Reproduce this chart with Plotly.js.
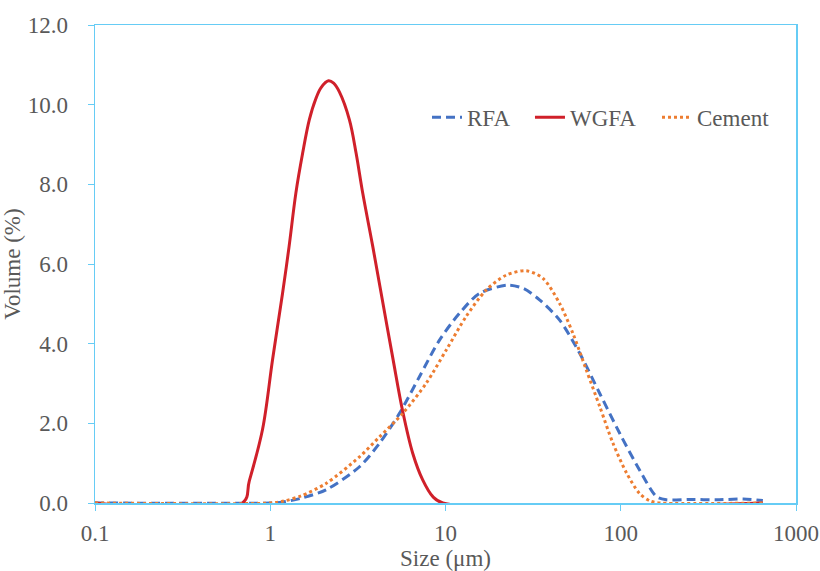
<!DOCTYPE html>
<html>
<head>
<meta charset="utf-8">
<script src="https://cdn.plot.ly/plotly-3.0.1.min.js"></script>
<style>html,body{margin:0;padding:0;background:#fff;}#chart{width:820px;height:571px;}</style>
</head>
<body>
<div id="chart"></div>
<script>
// Particle size (µm) and volume (%)
const rfaSize = [0.1, 1.0, 1.17, 1.5, 2.08, 3.23, 4.2, 5.46, 7.1, 9.24, 12.0, 15.6, 22.7, 28, 34.4, 44.8, 58.3, 75.9, 98.6, 128, 160, 182, 250, 350, 500, 647];
const rfaVolume = [0, 0, 0.02, 0.12, 0.33, 0.91, 1.50, 2.25, 3.17, 4.09, 4.76, 5.26, 5.47, 5.38, 5.10, 4.59, 3.76, 2.75, 1.75, 0.83, 0.16, 0.08, 0.09, 0.08, 0.10, 0.06];

const wgfaSize = [0.1, 0.695, 0.759, 0.904, 1.03, 1.175, 1.28, 1.40, 1.53, 1.67, 1.82, 1.95, 2.15, 2.3, 2.48, 2.83, 3.09, 3.37, 3.85, 4.38, 5.0, 5.7, 6.5, 7.41, 8.47, 9.66, 647];
const wgfaVolume = [0, 0, 0.55, 1.85, 3.59, 5.26, 6.43, 7.78, 8.78, 9.62, 10.15, 10.43, 10.60, 10.54, 10.32, 9.62, 8.78, 7.78, 6.43, 5.05, 3.65, 2.30, 1.25, 0.58, 0.16, 0, 0];

const cementSize = [0.1, 1.0, 1.2, 1.5, 2.08, 3.23, 4.2, 5.7, 7.74, 10.1, 13.1, 17.1, 22.2, 28.9, 36.0, 44.8, 53.3, 63.6, 75.9, 90.3, 108, 128, 147, 170, 647];
const cementVolume = [0, 0, 0.05, 0.18, 0.49, 1.16, 1.66, 2.25, 3.0, 3.84, 4.68, 5.35, 5.72, 5.83, 5.64, 5.01, 4.26, 3.34, 2.42, 1.50, 0.75, 0.24, 0.05, 0, 0];

const xTickVals = [0.1, 1, 10, 100, 1000];
const xTickText = ['0.1', '1', '10', '100', '1000'];
const yTickVals = [0, 2, 4, 6, 8, 10, 12];
const yTickText = ['0.0', '2.0', '4.0', '6.0', '8.0', '10.0', '12.0'];

const font = {family: 'Liberation Serif, Times New Roman, serif', color: '#595959'};
const fs = 23;
const axisColor = '#66CCF5';

const traces = [
  {x: rfaSize, y: rfaVolume, name: 'RFA', type: 'scatter', mode: 'lines', legend: 'legend',
   line: {color: '#4472C4', width: 3, dash: '9px,5px', shape: 'spline', smoothing: 0.8}},
  {x: wgfaSize, y: wgfaVolume, name: 'WGFA', type: 'scatter', mode: 'lines', legend: 'legend2',
   line: {color: '#D0202A', width: 3, shape: 'spline', smoothing: 1.0}},
  {x: cementSize, y: cementVolume, name: 'Cement', type: 'scatter', mode: 'lines', legend: 'legend3',
   line: {color: '#ED7D31', width: 3, dash: 'dot', shape: 'spline', smoothing: 0.8}}
];

function leg(x) {
  return {orientation: 'h', x: x, y: 0.807, xanchor: 'left', yanchor: 'middle',
          font: Object.assign({size: fs}, font), itemwidth: 30, bgcolor: 'rgba(0,0,0,0)'};
}

const layout = {
  width: 820, height: 571,
  margin: {l: 95, r: 24, t: 25, b: 68},
  paper_bgcolor: '#fff', plot_bgcolor: '#fff',
  font: Object.assign({size: fs}, font),
  showlegend: true,
  legend: leg(0.4736),
  legend2: leg(0.6205),
  legend3: leg(0.8017),
  xaxis: {type: 'log', range: [-1, 3], tickvals: xTickVals, ticktext: xTickText,
          showline: true, linecolor: axisColor, linewidth: 1.5, mirror: true,
          ticks: 'outside', ticklen: 6, tickcolor: axisColor, showgrid: false, zeroline: false,
          ticklabelstandoff: 3,
          tickfont: Object.assign({size: fs}, font),
          title: {text: 'Size (μm)', font: Object.assign({size: fs}, font), standoff: 2}},
  yaxis: {range: [0, 12], tickvals: yTickVals, ticktext: yTickText,
          showline: true, linecolor: axisColor, linewidth: 1.5, mirror: true,
          ticks: 'outside', ticklen: 6, tickcolor: axisColor, showgrid: false, zeroline: false,
          ticklabelstandoff: 15,
          tickfont: Object.assign({size: fs}, font),
          title: {text: 'Volume (%)', font: Object.assign({size: fs}, font), standoff: 0}}
};

Plotly.newPlot('chart', traces, layout, {displayModeBar: false, staticPlot: true});
</script>
</body>
</html>
